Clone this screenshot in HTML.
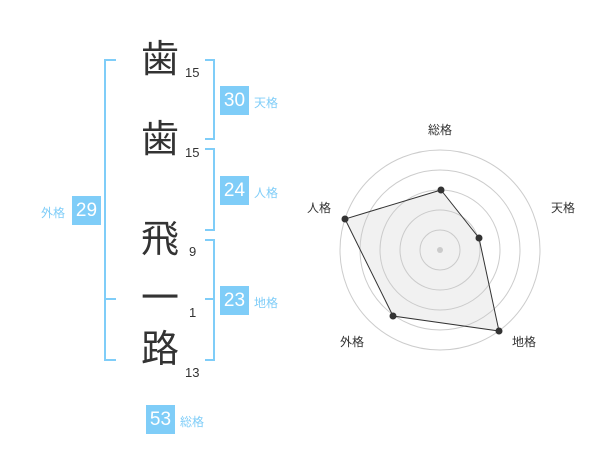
<!DOCTYPE html>
<html><head><meta charset="utf-8"><style>
body{margin:0;width:600px;height:470px;background:#fff;position:relative;overflow:hidden;font-family:"Liberation Sans","Noto Sans CJK JP",sans-serif}
.a{position:absolute}
.ch{position:absolute;left:140px;width:40px;text-align:center;font-size:38px;line-height:40px;color:#333}
.n{position:absolute;font-size:13px;color:#333;line-height:14px}
.b{position:absolute;width:29px;height:29px;background:#7fcdf8;color:#fff;font-size:19px;line-height:29px;text-align:center}
.l{position:absolute;font-size:12px;color:#7fcdf8;line-height:14px}
.r{position:absolute;font-size:12px;color:#333;line-height:14px}
</style></head><body>
<svg class="a" style="left:0;top:0" width="600" height="470">
<g stroke="#7fcdf8" stroke-width="2" fill="none">
<path d="M116 60H105V360H116M105 299H116"/>
<path d="M205 60H214V139H205"/>
<path d="M205 149H214V230H205"/>
<path d="M205 240H214V360H205M205 299H214"/>
</g>
<g stroke="#ccc" fill="none" stroke-width="1">
<circle cx="440" cy="250" r="20"/><circle cx="440" cy="250" r="40"/><circle cx="440" cy="250" r="60"/><circle cx="440" cy="250" r="80"/><circle cx="440" cy="250" r="100"/>
</g>
<circle cx="440" cy="250" r="3" fill="#ccc"/>
<polygon points="441,190 479,238 499,331 393,316 345,219" fill="rgba(200,200,200,0.25)" stroke="#333" stroke-width="1"/>
<g fill="#333"><circle cx="441" cy="190" r="3.5"/><circle cx="479" cy="238" r="3.5"/><circle cx="499" cy="331" r="3.5"/><circle cx="393" cy="316" r="3.5"/><circle cx="345" cy="219" r="3.5"/></g>
</svg>
<div class="ch" style="top:40px">歯</div>
<div class="ch" style="top:120px">歯</div>
<div class="ch" style="top:220px">飛</div>
<div class="ch" style="top:279px">一</div>
<div class="ch" style="top:330px">路</div>
<div class="n" style="left:185px;top:66px">15</div>
<div class="n" style="left:185px;top:146px">15</div>
<div class="n" style="left:189px;top:245px">9</div>
<div class="n" style="left:189px;top:306px">1</div>
<div class="n" style="left:185px;top:366px">13</div>
<div class="b" style="left:220px;top:86px">30</div><div class="l" style="left:254px;top:96px">天格</div>
<div class="b" style="left:220px;top:176px">24</div><div class="l" style="left:254px;top:186px">人格</div>
<div class="b" style="left:220px;top:286px">23</div><div class="l" style="left:254px;top:296px">地格</div>
<div class="b" style="left:72px;top:196px">29</div><div class="l" style="left:41px;top:206px">外格</div>
<div class="b" style="left:146px;top:405px">53</div><div class="l" style="left:180px;top:415px">総格</div>
<div class="r" style="left:428px;top:123px">総格</div>
<div class="r" style="left:551px;top:201px">天格</div>
<div class="r" style="left:512px;top:335px">地格</div>
<div class="r" style="left:340px;top:335px">外格</div>
<div class="r" style="left:307px;top:201px">人格</div>
</body></html>
